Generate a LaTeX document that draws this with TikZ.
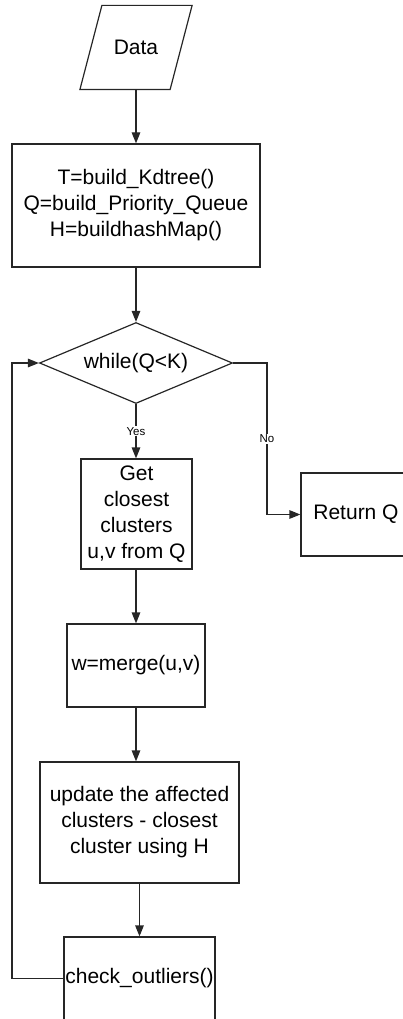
\documentclass[tikz,border=0pt]{standalone}
\usepackage{fontspec}
\setmainfont{Liberation Sans}
\usetikzlibrary{arrows.meta,shapes.geometric}
\definecolor{ink}{HTML}{262626}
\tikzset{
  box/.style={draw=ink, line width=1.2pt, inner sep=0pt, align=center,
    font=\fontsize{21}{26}\selectfont},
  flow/.style={draw=ink, line width=1.2pt, -{Triangle[length=11pt,width=8.5pt]}},
  plain/.style={draw=ink, line width=1.2pt},
  tag/.style={fill=white, inner sep=1pt, font=\fontsize{11.5}{13}\selectfont}
}
\begin{document}
\begin{tikzpicture}[x=1pt,y=-1pt]
  \useasboundingbox (0,0) rectangle (403,1019);
  \clip (0,0) rectangle (403,1019);

  % input parallelogram
  \node[box, draw=none, minimum width=111pt, minimum height=83pt] (data) at (136,47.5) {Data};
  \draw[plain] ([xshift=22pt]data.north west) -- (data.north east)
     -- ([xshift=-22pt]data.south east) -- (data.south west) -- cycle;

  \node[box, minimum width=248pt, minimum height=123pt] (init) at (136,205.5)
    {T=build\_Kdtree()\\Q=build\_Priority\_Queue\\H=buildhashMap()};

  \node[box, diamond, shape aspect=2.4, minimum width=193pt, minimum height=81pt] (loop) at (136,363)
    {while(Q<K)};

  \node[box, minimum width=111pt, minimum height=110pt] (get) at (136.5,514)
    {Get\\closest\\clusters\\u,v from Q};

  \node[box, minimum width=110pt, minimum height=83pt] (ret) at (356,514.5) {Return Q};

  \node[box, minimum width=138pt, minimum height=83pt] (merge) at (136,665.5) {w=merge(u,v)};

  \node[box, minimum width=199pt, minimum height=121pt] (upd) at (139.5,822.5)
    {update the affected\\clusters - closest\\cluster using H};

  \node[box, minimum width=151pt, minimum height=83pt] (chk) at (139.5,978.5) {check\_outliers()};

  % connectors
  \draw[flow] (data.south) -- (init.north);
  \draw[flow] (init.south) -- (loop.north);
  \draw[flow] (loop.south) -- node[tag]{Yes} (get.north -| loop.south);
  \coordinate (nobend) at (267,363);
  \draw[flow] (loop.east) -- (nobend) -- node[tag]{No} (nobend |- ret.west) -- (ret.west);
  \draw[flow] (get.south -| merge.north) -- (merge.north);
  \draw[flow] (merge.south) -- (merge.south |- upd.north);
  \draw[flow] (upd.south) -- (chk.north);
  \coordinate (back) at (12,978.5);
  \draw[flow] (chk.west) -- (back) -- (back |- loop.west) -- (loop.west);
\end{tikzpicture}
\end{document}
